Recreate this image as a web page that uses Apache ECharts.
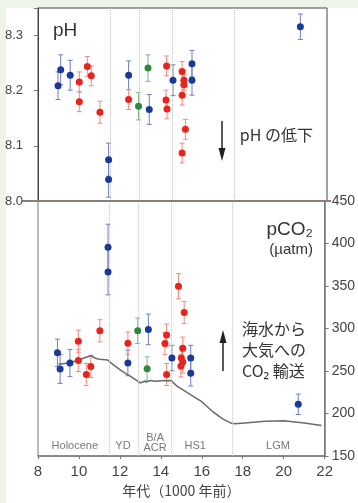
<!DOCTYPE html>
<html><head><meta charset="utf-8">
<script src="https://cdn.jsdelivr.net/npm/echarts@6/dist/echarts.min.js"></script>
<style>
html,body{margin:0;padding:0;background:#edf5ea;width:358px;height:503px;overflow:hidden;}
#panel{position:absolute;left:6px;top:8px;width:352px;height:495px;background:#fff;}
#chart{position:absolute;left:0;top:0;width:358px;height:503px;}
</style></head>
<body><div id="panel"></div><div id="chart"></div>
<script>
// ---- data (ages in 1000 years before present) ----
const xTicks = [8, 10, 12, 14, 16, 18, 20, 22];
const phTicks = [8.0, 8.1, 8.2, 8.3];
const co2Ticks = [150, 200, 250, 300, 350, 400, 450];

const blueAge   = [8.97, 9.10, 9.56, 11.42, 11.42, 12.39, 13.39, 14.54, 15.46, 15.46, 20.71];
const bluePH    = [8.209, 8.238, 8.228, 8.075, 8.039, 8.228, 8.166, 8.219, 8.249, 8.219, 8.316];
const bluePHErr = [0.025, 0.027, 0.027, 0.030, 0.032, 0.026, 0.027, 0.028, 0.024, 0.027, 0.023];
const blueCO2Age = [8.95, 9.08, 9.56, 11.42, 11.42, 12.39, 13.39, 14.54, 15.46, 15.46, 20.71];
const blueCO2    = [271.5, 252.5, 259.5, 395.7, 366.6, 259.5, 299.0, 265.3, 265.3, 247.4, 210.9];
const blueCO2Err = [16, 17, 16, 27, 27, 15, 18, 15, 15, 15, 12];

const redAge   = [10.0, 10.0, 10.39, 10.58, 11.0, 12.39, 14.23, 14.20, 14.25, 14.98, 15.07, 15.07, 14.98, 15.14, 14.98];
const redPH    = [8.216, 8.180, 8.244, 8.227, 8.161, 8.184, 8.245, 8.183, 8.167, 8.235, 8.219, 8.211, 8.192, 8.130, 8.087];
const redPHErr = [0.018, 0.018, 0.018, 0.018, 0.020, 0.018, 0.018, 0.018, 0.018, 0.018, 0.018, 0.018, 0.018, 0.018, 0.018];
const redCO2Age = [9.97, 9.97, 10.58, 10.36, 11.02, 12.39, 14.28, 14.20, 14.28, 14.86, 15.14, 15.07, 15.00, 15.07, 14.98];
const redCO2    = [285.1, 262.5, 255.5, 245.9, 297.4, 282.8, 292.4, 282.3, 245.9, 349.8, 318.9, 276.9, 265.3, 260.6, 256.0];
const redCO2Err = [13, 13, 13, 13, 13, 13, 13, 13, 13, 15, 13, 13, 13, 13, 13];

const greenAge   = [13.33, 12.87];
const greenPH    = [8.241, 8.172];
const greenPHErr = [0.024, 0.025];
const greenCO2Age = [12.87, 13.33];
const greenCO2    = [297.4, 252.8];
const greenCO2Err = [15, 14];

const atmAge = [9.0, 9.5, 10.0, 10.3, 10.6, 10.8, 11.0, 11.4, 11.7, 12.1, 12.5, 13.0, 13.2, 13.3, 13.5, 13.7, 14.0, 14.5, 14.8, 15.2, 15.6, 16.0, 16.5, 17.0, 17.4, 17.6, 18.1, 19.1, 20.0, 21.0, 21.85];
const atmCO2 = [258, 259.5, 263, 266, 268, 265, 264, 263, 257, 250, 244, 236, 238, 237, 239, 238, 238.5, 239, 232, 226, 220, 214, 203, 194, 189, 188, 189, 191, 191.5, 189, 186];

const periodBounds = [11.5, 12.9, 14.5, 17.5];
const periodNames = ['Holocene', 'YD', 'B/A\nACR', 'HS1', 'LGM'];
const periodMid   = [9.8, 12.15, 13.72, 15.68, 19.72];

// ---- styles ----
const C = {
  blue: '#1b3a98', blueBar: '#6f7fc4',
  red: '#e8231c', redBar: '#f28a7c',
  green: '#2b8a3c', greenBar: '#7fb487'
};
const FONT = '"Noto Sans CJK JP", "Noto Sans", sans-serif';
const LAT = '"Liberation Sans", Arial, sans-serif';

function zip(a, b) { return a.map((v, i) => [v, b[i]]); }
function errData(a, v, e) { return a.map((x, i) => [x, v[i] - e[i], v[i] + e[i]]); }

function errSeries(data, color, gi) {
  return {
    type: 'custom', xAxisIndex: gi, yAxisIndex: gi, silent: true, z: 2,
    encode: { x: 0, y: [1, 2] },
    data: data,
    renderItem: function (params, api) {
      const x = api.value(0);
      const lo = api.coord([x, api.value(1)]);
      const hi = api.coord([x, api.value(2)]);
      const w = 2.5;
      const st = { stroke: color, lineWidth: 1 };
      return { type: 'group', children: [
        { type: 'line', shape: { x1: hi[0], y1: hi[1], x2: lo[0], y2: lo[1] }, style: st },
        { type: 'line', shape: { x1: hi[0] - w, y1: hi[1], x2: hi[0] + w, y2: hi[1] }, style: st },
        { type: 'line', shape: { x1: lo[0] - w, y1: lo[1], x2: lo[0] + w, y2: lo[1] }, style: st }
      ]};
    }
  };
}
function dotSeries(data, color, gi) {
  return { type: 'scatter', xAxisIndex: gi, yAxisIndex: gi, symbol: 'circle', symbolSize: 7,
    itemStyle: { color: color, opacity: 1 }, data: data, z: 5, silent: true };
}
function boundLines(gi) {
  return { type: 'line', xAxisIndex: gi, yAxisIndex: gi, data: [], silent: true,
    markLine: { silent: true, symbol: 'none', label: { show: false },
      lineStyle: { color: '#c4c4c4', type: 'dotted', width: 1 },
      data: periodBounds.map(v => ({ xAxis: v })) } };
}

const chart = echarts.init(document.getElementById('chart'), null, { renderer: 'canvas' });
const L = 38, W = 289;
chart.setOption({
  animation: false,
  backgroundColor: 'transparent',
  textStyle: { fontFamily: FONT },
  grid: [
    { left: L, width: W, top: 8, height: 193, show: true, borderColor: '#444', borderWidth: 1, backgroundColor: '#fff' },
    { left: L, width: W, top: 201, height: 257, show: true, borderColor: '#7a7a7a', borderWidth: 1, backgroundColor: '#fff' }
  ],
  xAxis: [
    { gridIndex: 0, type: 'value', min: 8, max: 22, interval: 2,
      axisLine: { show: true, onZero: false, lineStyle: { color: '#8a7f78', width: 2 } },
      axisTick: { show: false }, axisLabel: { show: false }, splitLine: { show: false } },
    { gridIndex: 1, type: 'value', min: 8, max: 22, interval: 2,
      axisLine: { show: true, onZero: false, lineStyle: { color: '#777', width: 1.5 } },
      axisTick: { show: true, inside: false, length: 3, lineStyle: { color: '#777' } },
      axisLabel: { color: '#444', fontSize: 15, margin: 8, fontFamily: LAT,
        formatter: v => (xTicks.indexOf(v) >= 0 ? String(v) : '') },
      splitLine: { show: false },
      name: '年代（1000 年前）', nameLocation: 'middle', nameGap: 26,
      nameTextStyle: { color: '#444', fontSize: 14, fontFamily: FONT } }
  ],
  yAxis: [
    { gridIndex: 0, type: 'value', min: 8.0, max: 8.35, interval: 0.1, position: 'left',
      axisLine: { show: true, lineStyle: { color: '#444', width: 1 } },
      axisTick: { show: true, inside: false, length: 4, lineStyle: { color: '#777' } },
      axisLabel: { color: '#444', fontSize: 13, margin: 15, fontFamily: LAT,
        formatter: v => { const t = phTicks.find(p => Math.abs(p - v) < 1e-6); return t === undefined ? '' : t.toFixed(1); } },
      splitLine: { show: false } },
    { gridIndex: 1, type: 'value', min: 150, max: 450, interval: 50, position: 'right',
      axisLine: { show: true, lineStyle: { color: '#777', width: 1.5 } },
      axisTick: { show: true, inside: false, length: 4, lineStyle: { color: '#777' } },
      axisLabel: { color: '#444', fontSize: 14, margin: 7, fontFamily: LAT,
        formatter: v => (co2Ticks.indexOf(v) >= 0 ? String(v) : '') },
      splitLine: { show: false } }
  ],
  series: [
    boundLines(0), boundLines(1),
    { type: 'line', xAxisIndex: 1, yAxisIndex: 1, data: zip(atmAge, atmCO2), symbol: 'none', silent: true,
      lineStyle: { color: '#6a6a6a', width: 1.5 }, z: 3 },
    errSeries(errData(blueAge, bluePH, bluePHErr), C.blueBar, 0),
    errSeries(errData(redAge, redPH, redPHErr), C.redBar, 0),
    errSeries(errData(greenAge, greenPH, greenPHErr), C.greenBar, 0),
    errSeries(errData(blueCO2Age, blueCO2, blueCO2Err), C.blueBar, 1),
    errSeries(errData(redCO2Age, redCO2, redCO2Err), C.redBar, 1),
    errSeries(errData(greenCO2Age, greenCO2, greenCO2Err), C.greenBar, 1),
    dotSeries(zip(redAge, redPH), C.red, 0),
    dotSeries(zip(greenAge, greenPH), C.green, 0),
    dotSeries(zip(blueAge, bluePH), C.blue, 0),
    dotSeries(zip(redCO2Age, redCO2), C.red, 1),
    dotSeries(zip(greenCO2Age, greenCO2), C.green, 1),
    dotSeries(zip(blueCO2Age, blueCO2), C.blue, 1),
    { type: 'scatter', xAxisIndex: 1, yAxisIndex: 1, symbolSize: 1, silent: true, z: 4,
      itemStyle: { color: 'transparent' },
      data: periodNames.map((n, i) => ({ name: n, value: [periodMid[i], n.indexOf('\n') >= 0 ? 166 : 162] })),
      label: { show: true, position: 'inside', formatter: '{b}', color: '#555', fontSize: 11, lineHeight: 10, fontFamily: LAT } }
  ],
  graphic: [
    { type: 'line', shape: { x1: 22, y1: 201, x2: 331, y2: 201 }, style: { stroke: '#8a7f78', lineWidth: 2 }, z: 10 },
    { type: 'text', left: 53, top: 21, style: { text: 'pH', fontSize: 19, fill: '#333', fontFamily: LAT } },
    { type: 'text', right: 45, top: 127, style: { text: 'pH の低下', fontSize: 16, fill: '#333', fontFamily: FONT } },
    { type: 'line', shape: { x1: 222, y1: 121, x2: 222, y2: 150 }, style: { stroke: '#222', lineWidth: 1.5 } },
    { type: 'polygon', shape: { points: [[218.5, 148], [225.5, 148], [222, 161]] }, style: { fill: '#222' } },
    { type: 'text', right: 45, top: 220, style: { text: 'pCO₂', fontSize: 19, fill: '#333', fontFamily: LAT } },
    { type: 'text', right: 45, top: 242, style: { text: '(µatm)', fontSize: 15, fill: '#333', fontFamily: LAT } },
    { type: 'text', left: 242, top: 318, style: { text: '海水から\n大気への\nCO₂ 輸送', fontSize: 16, lineHeight: 21, fill: '#333', fontFamily: FONT } },
    { type: 'line', shape: { x1: 223, y1: 371, x2: 223, y2: 341 }, style: { stroke: '#222', lineWidth: 1.5 } },
    { type: 'polygon', shape: { points: [[219.5, 343], [226.5, 343], [223, 330]] }, style: { fill: '#222' } }
  ]
});
</script></body></html>
